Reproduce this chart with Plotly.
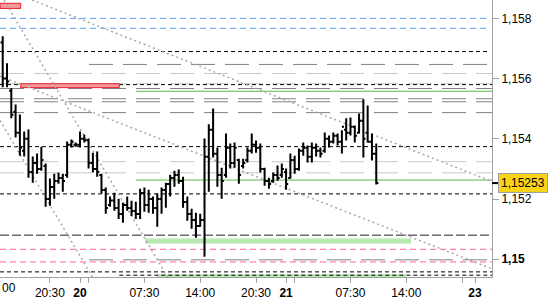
import numpy as np
import plotly.graph_objects as go

# ---- data: 30-minute OHLC bars (x = hours from 20th 00:00) ----
bar_hours = list(np.arange(-9.0, 34.51, 0.5))
highs = [1.15741,1.15651,1.15568,1.15514,1.15481,1.15424,1.15431,1.15341,1.15351,1.15374,
         1.15318,1.15268,1.15284,1.15288,1.15284,1.15391,1.15398,1.15388,1.15424,1.15414,
         1.15401,1.15354,1.15358,1.15284,1.15238,1.15208,1.15221,1.15201,1.15188,1.15208,
         1.15194,1.15191,1.15234,1.15238,1.15231,1.15208,1.15218,1.15238,1.15254,1.15281,
         1.15294,1.15298,1.15274,1.15208,1.15168,1.15154,1.15151,1.15401,1.15448,1.15501,
         1.15371,1.15304,1.15418,1.15384,1.15388,1.15334,1.15334,1.15371,1.15418,1.15394,
         1.15384,1.15304,1.15271,1.15288,1.15311,1.15318,1.15301,1.15351,1.15344,1.15368,
         1.15388,1.15378,1.15388,1.15384,1.15371,1.15421,1.15411,1.15421,1.15418,1.15428,
         1.15468,1.15471,1.15444,1.15484,1.15531,1.15511,1.15418,1.15384]
lows = [1.15571,1.15571,1.15468,1.15404,1.15344,1.15341,1.15271,1.15254,1.15284,1.15294,
        1.15174,1.15178,1.15201,1.15251,1.15224,1.15271,1.15371,1.15374,1.15371,1.15388,
        1.15301,1.15288,1.15274,1.15218,1.15151,1.15174,1.15161,1.15134,1.15121,1.15161,
        1.15144,1.15134,1.15134,1.15158,1.15154,1.15151,1.15108,1.15151,1.15171,1.15208,
        1.15241,1.15251,1.15171,1.15128,1.15101,1.15071,1.15108,1.15008,1.15224,1.15338,
        1.15241,1.15201,1.15271,1.15301,1.15304,1.15251,1.15301,1.15321,1.15351,1.15354,
        1.15288,1.15244,1.15234,1.15254,1.15261,1.15271,1.15231,1.15268,1.15284,1.15294,
        1.15344,1.15321,1.15321,1.15341,1.15338,1.15354,1.15371,1.15384,1.15378,1.15351,
        1.15394,1.15411,1.15388,1.15418,1.15338,1.15388,1.15328,1.15248]
opens = [1.15720,1.15600,1.15560,1.15490,1.15420,1.15360,1.15400,1.15290,1.15320,1.15300,
         1.15310,1.15200,1.15240,1.15260,1.15270,1.15280,1.15380,1.15380,1.15380,1.15400,
         1.15395,1.15320,1.15300,1.15280,1.15230,1.15180,1.15195,1.15170,1.15150,1.15180,
         1.15170,1.15160,1.15150,1.15220,1.15180,1.15200,1.15170,1.15200,1.15230,1.15250,
         1.15270,1.15280,1.15260,1.15190,1.15150,1.15130,1.15110,1.15130,1.15340,1.15430,
         1.15350,1.15280,1.15280,1.15370,1.15320,1.15330,1.15310,1.15330,1.15360,1.15380,
         1.15370,1.15300,1.15260,1.15260,1.15280,1.15280,1.15290,1.15270,1.15330,1.15300,
         1.15360,1.15370,1.15340,1.15370,1.15360,1.15360,1.15400,1.15390,1.15410,1.15390,
         1.15430,1.15420,1.15440,1.15420,1.15460,1.15420,1.15390,1.15350]
closes = [1.15600,1.15590,1.15480,1.15420,1.15370,1.15400,1.15290,1.15320,1.15300,1.15330,
          1.15200,1.15240,1.15260,1.15270,1.15260,1.15380,1.15390,1.15380,1.15400,1.15395,
          1.15320,1.15300,1.15290,1.15230,1.15170,1.15195,1.15170,1.15150,1.15180,1.15170,
          1.15160,1.15150,1.15220,1.15180,1.15200,1.15170,1.15200,1.15230,1.15250,1.15270,
          1.15280,1.15260,1.15190,1.15150,1.15130,1.15110,1.15130,1.15340,1.15430,1.15350,
          1.15280,1.15260,1.15370,1.15320,1.15370,1.15280,1.15320,1.15360,1.15380,1.15370,
          1.15300,1.15260,1.15250,1.15280,1.15270,1.15300,1.15250,1.15330,1.15300,1.15360,
          1.15370,1.15340,1.15370,1.15360,1.15350,1.15400,1.15390,1.15410,1.15390,1.15440,
          1.15420,1.15440,1.15410,1.15460,1.15400,1.15390,1.15350,1.15253]
last_price = 1.15253

# axis ticks
x_tick_hours = [-3.5, 0, 1, 7.5, 14, 20.5, 24, 25, 31.5, 38, 44.5, 46]
x_tick_labels = ["20:30", "<b>20</b>", "", "07:30", "14:00", "20:30", "<b>21</b>", "",
                 "07:30", "14:00", "", "<b>23</b>"]
y_tick_values = [1.150, 1.152, 1.154, 1.156, 1.158]
y_tick_labels = ["<b>1,15</b>", "1,152", "1,154", "1,156", "1,158"]

# horizontal levels
level_prices = [1.15800, 1.15767, 1.15690, 1.15647, 1.15617, 1.15583, 1.15580, 1.15567,
                1.15558, 1.15533, 1.15523, 1.15487, 1.15374, 1.15324, 1.15287, 1.15263,
                1.15217, 1.15080, 1.15033, 1.14998, 1.14991, 1.14958, 1.14947]
# zones (low, high)
zone_green = [(1.15052, 1.15069), (1.14939, 1.14950)]
zone_red = [(1.15570, 1.15583), (1.15833, 1.15850)]
# trend lines (hour, price) pairs
trend_lines = [((-8.851, 1.15861), (10.248, 1.14938)),
               ((-9.316, 1.15461), (1.514, 1.14938)),
               ((-5.590, 1.15861), (47.98, 1.15258)),
               ((-9.316, 1.15608), (47.98, 1.14968))]

# ---- styles ----
XMIN, XMAX = -9.316, 47.98
BLUE = dict(color="#5b9cf6", dash="6px,4px")
BLK = dict(color="#000000", dash="4px,3px")
GRY = dict(color="#808080", dash="24px,10px")
LGRY = dict(color="#c8c8c8", dash="24px,10px")
GRN = dict(color="#5cb84a", dash="solid")
PINK = dict(color="#ff5fa8", dash="6px,4px")
DARK = dict(color="#202020", dash="9px,3px")
level_styles = [
    (XMIN, 47.75, BLUE), (XMIN, 47.75, BLUE), (XMIN, 47.40, BLK), (1.05, XMAX, GRY),
    (XMIN, XMAX, LGRY), (XMIN, XMAX, LGRY), (XMIN, XMAX, BLK), (XMIN, XMAX, GRY),
    (6.52, XMAX, GRN), (XMIN, XMAX, GRY), (XMIN, XMAX, GRY), (XMIN, XMAX, GRY),
    (XMIN, XMAX, BLK), (XMIN, XMAX, LGRY), (XMIN, XMAX, LGRY), (6.52, XMAX, GRN),
    (XMIN, XMAX, BLK), (XMIN, XMAX, DARK), (XMIN, XMAX, PINK), (1.05, XMAX, GRY),
    (XMIN, XMAX, PINK), (XMIN, XMAX, BLK), (4.58, XMAX, BLK),
]
zone_green_x = [(7.57, 38.55), (8.97, 37.96)]
zone_red_x = [(-6.906, 4.577), (XMIN, -6.906)]

FONT = "Liberation Sans, Arial, sans-serif"

fig = go.Figure(go.Ohlc(
    x=bar_hours, open=opens, high=highs, low=lows, close=closes,
    increasing=dict(line=dict(color="black", width=2)),
    decreasing=dict(line=dict(color="black", width=2)),
    tickwidth=0.5, hoverinfo="skip", showlegend=False,
))

shapes = []
for (y0, y1), (x0, x1) in zip(zone_green, zone_green_x):
    shapes.append(dict(type="rect", xref="x", yref="y", x0=x0, x1=x1, y0=y0, y1=y1,
                       fillcolor="#b6e8b0", line=dict(width=0), layer="below"))
for p, (x0, x1, st) in zip(level_prices, level_styles):
    shapes.append(dict(type="line", xref="x", yref="y", x0=x0, x1=x1, y0=p, y1=p,
                       line=dict(color=st["color"], dash=st["dash"], width=1), layer="below"))
for (y0, y1), (x0, x1) in zip(zone_red, zone_red_x):
    shapes.append(dict(type="rect", xref="x", yref="y", x0=x0, x1=x1, y0=y0, y1=y1,
                       fillcolor="#f49a9a", line=dict(color="#e8202a", width=1), layer="below"))
for (a, b) in trend_lines:
    shapes.append(dict(type="line", xref="x", yref="y", x0=a[0], y0=a[1], x1=b[0], y1=b[1],
                       line=dict(color="#a8a8a8", dash="2px,3px", width=1.5), layer="below"))
# last price marker
shapes.append(dict(type="line", xref="paper", yref="y", x0=1.0, x1=1.012,
                   y0=last_price, y1=last_price, line=dict(color="black", width=2)))

fig.update_layout(
    width=550, height=300,
    margin=dict(l=0, r=58, t=0, b=23),
    paper_bgcolor="white", plot_bgcolor="white",
    separators=",.",
    shapes=shapes,
    font=dict(family=FONT, size=12, color="black"),
    xaxis=dict(range=[XMIN, XMAX], showgrid=False, zeroline=False, showline=True,
               linecolor="#a0a0a0", linewidth=1, ticks="outside", ticklen=5,
               tickcolor="#a0a0a0", tickvals=x_tick_hours, ticktext=x_tick_labels,
               tickfont=dict(family=FONT, size=12, color="black"),
               rangeslider=dict(visible=False), fixedrange=True),
    yaxis=dict(range=[1.14941, 1.15861], side="right", showgrid=False, zeroline=False,
               showline=True, linecolor="#a0a0a0", linewidth=1, ticks="outside",
               ticklen=6, tickcolor="#a0a0a0", tickvals=y_tick_values,
               ticktext=y_tick_labels, tickfont=dict(family=FONT, size=12, color="black"),
               fixedrange=True),
    annotations=[
        dict(xref="paper", yref="y", x=1.012, y=last_price, xanchor="left", yanchor="middle",
             text="1,15253", showarrow=False, bgcolor="#fad419", bordercolor="#a0a0a0",
             borderwidth=1, borderpad=2, font=dict(family=FONT, size=12, color="black")),
        dict(xref="paper", yref="paper", x=0, y=-0.04, xanchor="left", yanchor="middle",
             text="00", showarrow=False, font=dict(family=FONT, size=12, color="black")),
    ],
)

fig.write_html("out.html", config={"displayModeBar": False})
